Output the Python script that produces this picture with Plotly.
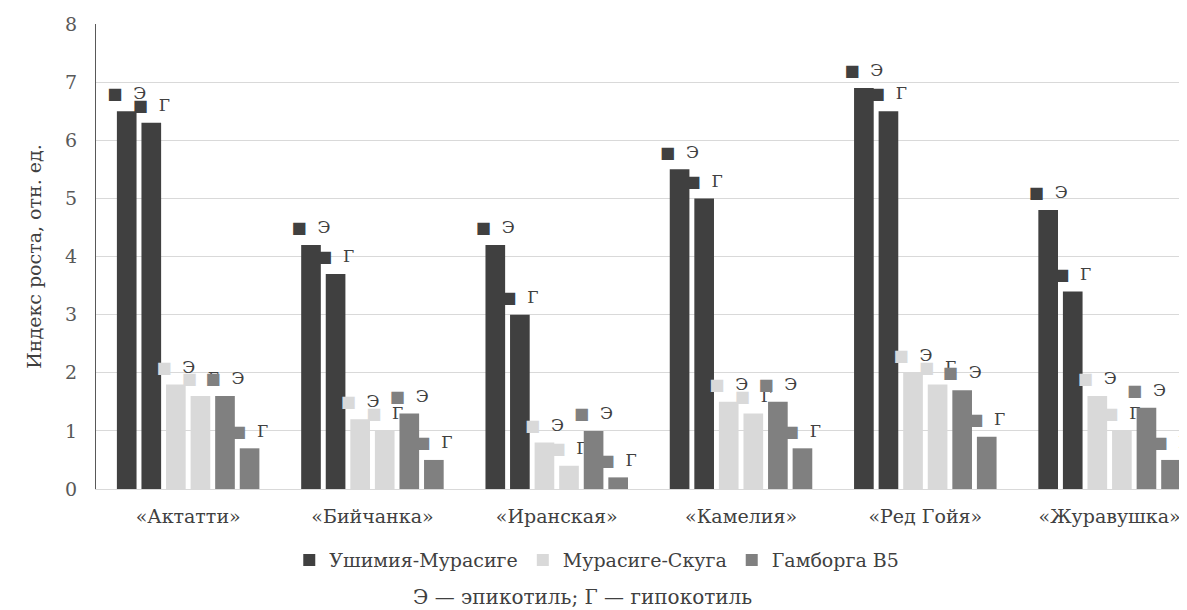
import plotly.graph_objects as go

categories = ["«Актатти»", "«Бийчанка»", "«Иранская»", "«Камелия»", "«Ред Гойя»", "«Журавушка»"]

um_epi = [6.5, 4.2, 4.2, 5.5, 6.9, 4.8]
um_hypo = [6.3, 3.7, 3.0, 5.0, 6.5, 3.4]
ms_epi = [1.8, 1.2, 0.8, 1.5, 2.0, 1.6]
ms_hypo = [1.6, 1.0, 0.4, 1.3, 1.8, 1.0]
gb_epi = [1.6, 1.3, 1.0, 1.5, 1.7, 1.4]
gb_hypo = [0.7, 0.5, 0.2, 0.7, 0.9, 0.5]

media = ["Ушимия-Мурасиге", "Мурасиге-Скуга", "Гамборга B5"]
colors = ["#404040", "#d9d9d9", "#808080"]
part_letters = ["Э", "Г"]

series = [
    (0, 0, um_epi), (0, 1, um_hypo),
    (1, 0, ms_epi), (1, 1, ms_hypo),
    (2, 0, gb_epi), (2, 1, gb_hypo),
]

FONT = "DejaVu Serif"

fig = go.Figure()
for mi, pi, vals in series:
    color = colors[mi]
    label = ('<span style="font-family:DejaVu Sans;font-size:16px;color:%s">■</span>'
             '<span style="font-size:17px">\u00a0\u00a0%s</span>'
             '<br><span style="font-size:6px">\u00a0</span>'
             % (color, part_letters[pi]))
    fig.add_trace(go.Bar(
        x=categories, y=vals,
        name=media[mi],
        legendgroup=media[mi],
        showlegend=(pi == 0),
        marker=dict(color=color, line=dict(width=0)),
        text=[label] * len(vals),
        texttemplate="%{text}",
        textposition="outside",
        constraintext="none",
        cliponaxis=False,
        textfont=dict(family=FONT, size=6, color="#404040"),
        hoverinfo="x+y+name",
    ))

fig.add_annotation(
    text="Э — эпикотиль; Г — гипокотиль",
    xref="paper", yref="paper", x=0.446, y=-0.232,
    xanchor="center", yanchor="middle", showarrow=False,
    font=dict(family=FONT, size=20, color="#404040"),
)

fig.update_layout(
    width=1179, height=602,
    margin=dict(l=88, r=0, t=16, b=121),
    paper_bgcolor="white", plot_bgcolor="white",
    barmode="group", bargap=0.2, bargroupgap=0.2,
    font=dict(family=FONT, color="#404040"),
    legend=dict(orientation="h", x=0.459, xanchor="center", y=-0.153, yanchor="middle",
                font=dict(family=FONT, size=19, color="#404040"),
                itemwidth=30, traceorder="normal"),
    xaxis=dict(
        range=[-0.5, 5.42],
        showgrid=False, showline=True, linecolor="#d9d9d9", linewidth=1,
        ticks="", ticklabelstandoff=10,
        tickfont=dict(family=FONT, size=19, color="#404040"),
    ),
    yaxis=dict(
        range=[0, 8], dtick=1, tick0=0,
        showgrid=True, gridcolor="#d9d9d9", gridwidth=1,
        showline=True, linecolor="#595959", linewidth=1,
        zeroline=False, ticks="", ticklabelstandoff=14,
        tickfont=dict(family=FONT, size=19, color="#595959"),
        title=dict(text="Индекс роста, отн. ед.", font=dict(family=FONT, size=19, color="#404040"), standoff=18),
    ),
)

fig.write_html("out.html")
